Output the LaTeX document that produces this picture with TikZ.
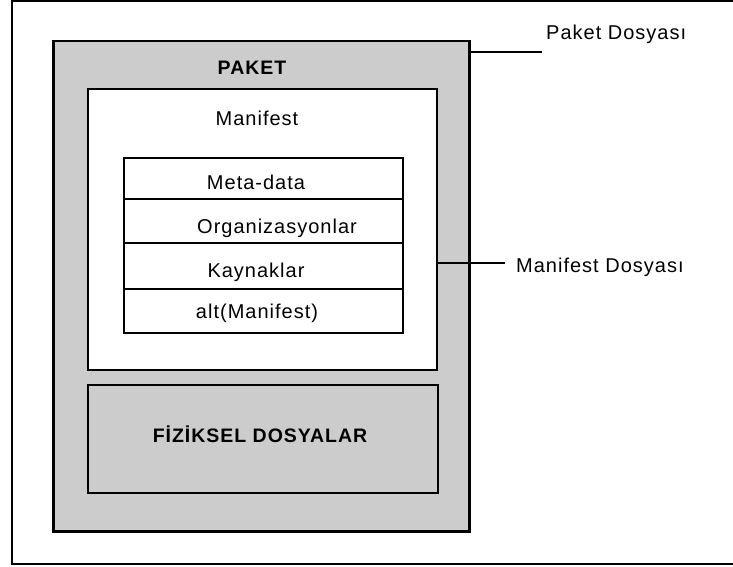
\documentclass[tikz,border=0pt]{standalone}
\usepackage{fontspec}
\setmainfont[LetterSpace=5]{Liberation Sans}
\definecolor{boxgray}{HTML}{CCCCCC}
\begin{document}
\begin{tikzpicture}[x=1pt,y=-1pt,
  lbl/.style={inner sep=0pt,font=\fontsize{20}{23}\selectfont},
  blbl/.style={lbl,font=\fontsize{19.5}{23}\selectfont\bfseries},
  frame/.style={draw=black,line width=2pt,inner sep=0pt,anchor=north west},
  conn/.style={draw=black,line width=2pt}]
\useasboundingbox (0,0) rectangle (733,567);
% outer frame (right side lies beyond the picture)
\draw[line width=2pt] (740,1) -- (12,1) -- (12,564) -- (740,564);
% boxes
\node[frame,fill=boxgray,line width=2.5pt,minimum width=416pt,minimum height=490pt] (paket) at (52,40) {};
\node[frame,fill=white,minimum width=349pt,minimum height=281pt] (mbox) at (87,88) {};
\node[frame,minimum width=279pt,minimum height=41pt] (r1) at (123,157) {};
\node[frame,minimum width=279pt,minimum height=44pt] (r2) at (123,198) {};
\node[frame,minimum width=279pt,minimum height=46pt] (r3) at (123,242) {};
\node[frame,minimum width=279pt,minimum height=44pt] (r4) at (123,288) {};
\node[frame,fill=boxgray,minimum width=350pt,minimum height=108pt] (fiz) at (87,384) {};
% texts
\node[blbl] (tpaket) at (252,68) {PAKET};
\node[lbl] (tman) at (257,118) {Manifest};
\node[lbl] (t1) at (256,182) {Meta-data};
\node[lbl] (t2) at (277,228) {Organizasyonlar};
\node[lbl] (t3) at (256,272) {Kaynaklar};
\node[lbl] (t4) at (257,313) {alt(Manifest)};
\node[blbl] (tfiz) at (260,434) {FİZİKSEL DOSYALAR};
% connectors and side labels
\coordinate (pd) at (542,52);
\coordinate (md) at (505,263);
\draw[conn] (paket.east |- pd) -- (pd);
\draw[conn] (mbox.east |- md) -- (md);
\node[lbl,anchor=west] (lpd) at (546,34) {Paket Dosyası};
\node[lbl,anchor=west] (lmd) at (516,267) {Manifest Dosyası};
\end{tikzpicture}
\end{document}
